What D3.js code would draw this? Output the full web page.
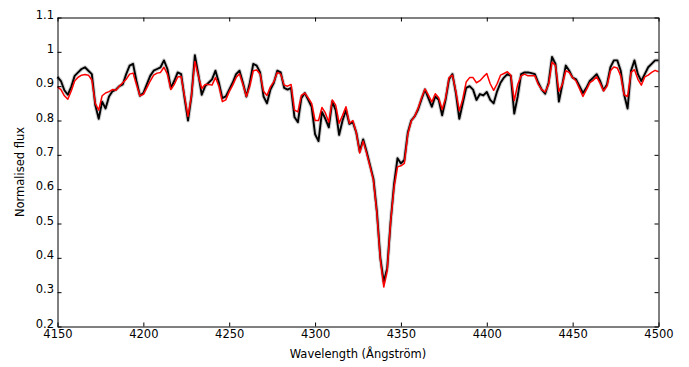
<!DOCTYPE html>
<html>
<head>
<meta charset="utf-8">
<script src="https://cdn.jsdelivr.net/npm/d3@7"></script>
<style>
  body { margin: 0; background: #fff; }
  svg text { font-family: "DejaVu Sans", sans-serif; font-size: 11.5px; fill: #000; }
</style>
</head>
<body>
<svg width="689" height="367"></svg>
<script>
// wavelength grid (Angstrom), 2 A step
var wavelength = [
  4150,4152,4154,4156,4158,4160,4162,4164,4166,4168,
  4170,4172,4174,4176,4178,4180,4182,4184,4186,4188,
  4190,4192,4194,4196,4198,4200,4202,4204,4206,4208,
  4210,4212,4214,4216,4218,4220,4222,4224,4226,4228,
  4230,4232,4234,4236,4238,4240,4242,4244,4246,4248,
  4250,4252,4254,4256,4258,4260,4262,4264,4266,4268,
  4270,4272,4274,4276,4278,4280,4282,4284,4286,4288,
  4290,4292,4294,4296,4298,4300,4302,4304,4306,4308,
  4310,4312,4314,4316,4318,4320,4322,4324,4326,4328,
  4330,4332,4334,4336,4338,4340,4342,4344,4346,4348,
  4350,4352,4354,4356,4358,4360,4362,4364,4366,4368,
  4370,4372,4374,4376,4378,4380,4382,4384,4386,4388,
  4390,4392,4394,4396,4398,4400,4402,4404,4406,4408,
  4410,4412,4414,4416,4418,4420,4422,4424,4426,4428,
  4430,4432,4434,4436,4438,4440,4442,4444,4446,4448,
  4450,4452,4454,4456,4458,4460,4462,4464,4466,4468,
  4470,4472,4474,4476,4478,4480,4482,4484,4486,4488,
  4490,4492,4494,4496,4498,4500
];

// observed spectrum (black)
var observed = [
  0.927,0.915,0.888,0.875,0.898,0.930,0.940,0.950,0.955,0.945,
  0.935,0.845,0.805,0.855,0.835,0.870,0.885,0.890,0.900,0.905,
  0.935,0.960,0.965,0.915,0.872,0.880,0.905,0.930,0.945,0.950,
  0.955,0.975,0.950,0.895,0.915,0.940,0.935,0.865,0.800,0.870,
  0.990,0.935,0.875,0.900,0.910,0.920,0.945,0.910,0.865,0.870,
  0.890,0.910,0.935,0.945,0.910,0.870,0.910,0.965,0.960,0.940,
  0.870,0.850,0.890,0.910,0.945,0.940,0.895,0.890,0.895,0.810,
  0.795,0.865,0.880,0.860,0.840,0.760,0.740,0.825,0.805,0.780,
  0.855,0.830,0.758,0.800,0.830,0.790,0.795,0.765,0.710,0.745,
  0.710,0.670,0.630,0.535,0.400,0.330,0.370,0.505,0.615,0.690,
  0.675,0.685,0.765,0.800,0.812,0.832,0.862,0.890,0.865,0.840,
  0.870,0.860,0.815,0.860,0.920,0.935,0.880,0.805,0.850,0.895,
  0.900,0.890,0.860,0.877,0.873,0.883,0.860,0.850,0.885,0.910,
  0.925,0.935,0.930,0.820,0.870,0.935,0.940,0.940,0.938,0.935,
  0.910,0.890,0.878,0.910,0.985,0.965,0.855,0.905,0.960,0.945,
  0.925,0.920,0.900,0.880,0.895,0.915,0.925,0.935,0.915,0.888,
  0.905,0.955,0.975,0.975,0.945,0.875,0.835,0.945,0.975,0.935,
  0.915,0.935,0.955,0.965,0.975,0.975
];

// model spectrum (red)
var model = [
  0.898,0.890,0.872,0.862,0.886,0.915,0.926,0.932,0.934,0.932,
  0.918,0.850,0.830,0.872,0.880,0.884,0.890,0.888,0.900,0.910,
  0.920,0.935,0.938,0.905,0.872,0.876,0.895,0.915,0.932,0.938,
  0.940,0.955,0.935,0.890,0.905,0.927,0.928,0.870,0.812,0.872,
  0.972,0.930,0.893,0.905,0.905,0.903,0.925,0.900,0.855,0.860,
  0.884,0.903,0.925,0.936,0.905,0.870,0.900,0.945,0.947,0.935,
  0.885,0.873,0.898,0.913,0.940,0.935,0.903,0.900,0.905,0.830,
  0.825,0.873,0.880,0.866,0.850,0.800,0.800,0.838,0.822,0.795,
  0.860,0.845,0.792,0.815,0.840,0.792,0.800,0.765,0.705,0.740,
  0.705,0.666,0.625,0.530,0.395,0.315,0.362,0.505,0.605,0.665,
  0.668,0.675,0.760,0.798,0.812,0.836,0.866,0.892,0.874,0.854,
  0.878,0.866,0.832,0.865,0.925,0.932,0.885,0.828,0.862,0.912,
  0.925,0.925,0.910,0.916,0.927,0.937,0.907,0.888,0.907,0.932,
  0.937,0.942,0.932,0.858,0.905,0.930,0.935,0.930,0.930,0.930,
  0.905,0.890,0.883,0.905,0.970,0.960,0.885,0.905,0.945,0.940,
  0.925,0.915,0.893,0.870,0.890,0.910,0.917,0.927,0.908,0.886,
  0.900,0.945,0.956,0.953,0.930,0.875,0.870,0.940,0.948,0.920,
  0.903,0.927,0.932,0.940,0.946,0.942
];

var xTicks = [4150, 4200, 4250, 4300, 4350, 4400, 4450, 4500];
var yTicks = [0.2, 0.3, 0.4, 0.5, 0.6, 0.7, 0.8, 0.9, 1.0, 1.1];

var plotLeft = 57.5, plotRight = 658.5, plotTop = 17.5, plotBottom = 326.5;

var svg = d3.select("svg");

var x = d3.scaleLinear().domain([4150, 4500]).range([plotLeft, plotRight]);
var y = d3.scaleLinear().domain([0.2, 1.1]).range([plotBottom, plotTop]);

var obs = wavelength.map(function(w, i) { return [w, observed[i]]; });
var mod = wavelength.map(function(w, i) { return [w, model[i]]; });

var line = d3.line()
  .x(function(d) { return x(d[0]); })
  .y(function(d) { return y(d[1]); });

var plot = svg.append("g");

// noisy observed data: soft grey fringe + black core
plot.append("path")
  .attr("d", line(obs))
  .attr("fill", "none")
  .attr("stroke", "#888")
  .attr("stroke-opacity", 0.4)
  .attr("stroke-width", 4)
  .attr("stroke-linejoin", "round");

plot.append("path")
  .attr("d", line(obs))
  .attr("fill", "none")
  .attr("stroke", "#000")
  .attr("stroke-width", 1.9)
  .attr("stroke-linejoin", "round");

plot.append("path")
  .attr("d", line(mod))
  .attr("fill", "none")
  .attr("stroke", "#ff0000")
  .attr("stroke-width", 1.5)
  .attr("stroke-linejoin", "round");

var fmt = function(d) { return d3.format("~g")(d); };

svg.append("g")
  .attr("transform", "translate(0," + plotBottom + ")")
  .call(d3.axisBottom(x).tickValues(xTicks).tickFormat(d3.format("d"))
    .tickSizeInner(-4).tickSizeOuter(0).tickPadding(3));

svg.append("g")
  .attr("transform", "translate(0," + plotTop + ")")
  .call(d3.axisTop(x).tickValues(xTicks).tickFormat("")
    .tickSizeInner(-4).tickSizeOuter(0));

var yAxis = svg.append("g")
  .attr("transform", "translate(" + plotLeft + ",0)")
  .call(d3.axisLeft(y).tickValues(yTicks).tickFormat(fmt)
    .tickSizeInner(-4).tickSizeOuter(0).tickPadding(3.5));

yAxis.selectAll("text").attr("dy", "0.06em");

svg.append("g")
  .attr("transform", "translate(" + plotRight + ",0)")
  .call(d3.axisRight(y).tickValues(yTicks).tickFormat("")
    .tickSizeInner(-4).tickSizeOuter(0));

svg.selectAll(".domain").attr("stroke", "#000");
svg.selectAll(".tick line").attr("stroke", "#000");
svg.selectAll(".tick text")
  .attr("font-family", "DejaVu Sans")
  .attr("font-size", "11.5px")
  .attr("fill", "#000");

svg.append("text")
  .attr("x", (plotLeft + plotRight) / 2)
  .attr("y", 358)
  .attr("text-anchor", "middle")
  .text("Wavelength (Ångström)");

svg.append("text")
  .attr("transform", "translate(24," + (plotTop + plotBottom) / 2 + ") rotate(-90)")
  .attr("text-anchor", "middle")
  .text("Normalised flux");
</script>
</body>
</html>
